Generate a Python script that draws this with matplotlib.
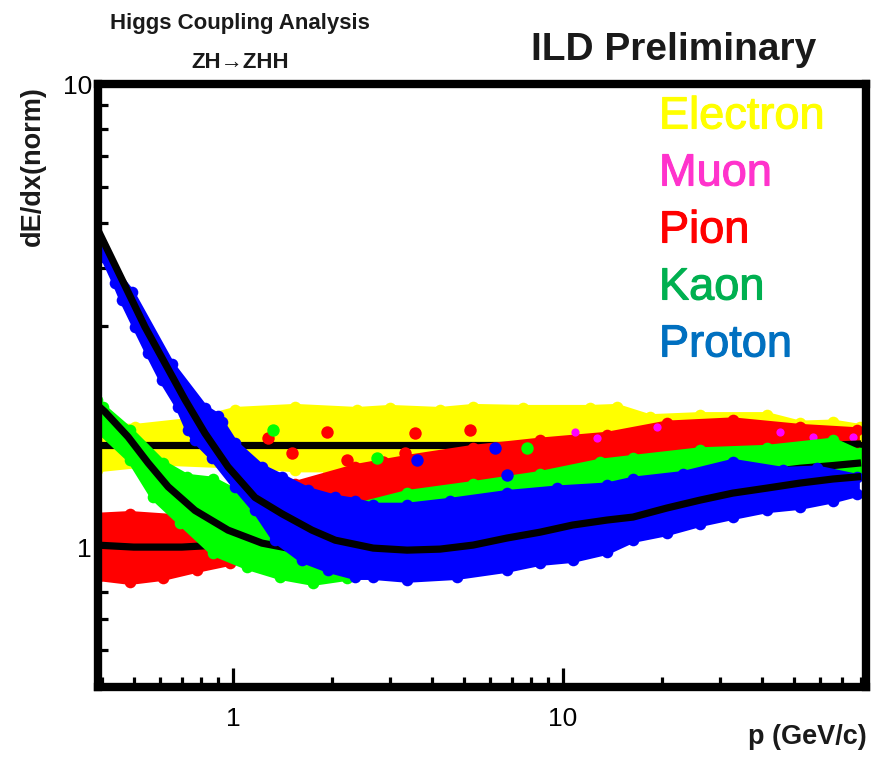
import matplotlib
matplotlib.use('Agg')
import matplotlib.pyplot as plt
import matplotlib.patheffects as pe
from matplotlib.ticker import LogLocator, FuncFormatter, NullFormatter

plt.rcParams['font.family'] = ['Liberation Sans', 'DejaVu Sans']

# ---- values (p in GeV/c, dE/dx normalised) ----
# electron band
e_up_p = [0.387, 0.505, 0.767, 1.014, 1.541, 2.38, 2.99, 4.24, 5.34, 7.56, 12.1, 14.6, 18.3, 26.0, 41.5, 52.3, 65.8, 79.4]
e_up_v = [1.83, 1.82, 1.88, 1.98, 2.01, 1.98, 2.00, 1.98, 2.01, 2.00, 2.00, 2.01, 1.91, 1.93, 1.93, 1.85, 1.86, 1.82]
e_lo_p = [0.387, 0.609, 1.224, 1.541, 1.941, 2.66, 79.4]
e_lo_v = [1.47, 1.52, 1.49, 1.47, 1.47, 1.47, 1.47]
e_fit_p = [0.387, 82.0]
e_fit_v = [1.66, 1.66]

# muon (only a few points peek out)
mu_dot_p = [10.9, 12.7, 19.3, 45.5, 57.2, 75.6]
mu_dot_v = [1.77, 1.72, 1.82, 1.77, 1.73, 1.73]

# pion band
pi_up_p = [0.387, 0.488, 0.691, 0.823, 0.95, 1.036, 1.541, 2.34, 3.37, 5.34, 8.52, 13.6, 20.6, 32.7, 52.3, 77.8]
pi_up_v = [1.17, 1.18, 1.16, 1.155, 1.26, 1.28, 1.37, 1.49, 1.56, 1.64, 1.70, 1.75, 1.85, 1.88, 1.82, 1.79]
pi_lo_p = [0.387, 0.488, 0.614, 0.778, 0.979, 1.268, 1.618, 2.11, 3.37, 5.34, 8.52, 13.6, 20.6, 32.7, 52.3, 77.8]
pi_lo_v = [0.857, 0.84, 0.857, 0.892, 0.923, 0.96, 1.09, 1.24, 1.28, 1.35, 1.44, 1.53, 1.56, 1.64, 1.60, 1.56]
pi_fit_p = [0.387, 0.5, 0.7, 0.9, 1.2, 2.0, 3.37, 5.34, 8.52, 13.6, 20.6, 32.7, 41.5, 52.3, 65.8, 80.0]
pi_fit_v = [1.01, 1.0, 1.0, 1.01, 1.04, 1.10, 1.18, 1.25, 1.33, 1.41, 1.48, 1.55, 1.59, 1.63, 1.66, 1.67]
pi_dot_p = [1.277, 1.927, 1.509, 2.22, 3.56, 3.32, 5.23, 2.85]
pi_dot_v = [1.72, 1.77, 1.60, 1.54, 1.76, 1.60, 1.79, 1.53]

# kaon band
k_up_p = [0.387, 0.404, 0.488, 0.614, 0.726, 0.870, 1.103, 1.268, 1.618, 2.38, 3.37, 5.34, 8.52, 12.9, 16.3, 26.0, 41.5, 65.8, 79.4]
k_up_v = [2.08, 2.01, 1.79, 1.52, 1.42, 1.40, 1.28, 1.20, 1.17, 1.23, 1.31, 1.37, 1.44, 1.53, 1.56, 1.62, 1.64, 1.70, 1.60]
k_lo_p = [0.387, 0.488, 0.573, 0.691, 0.870, 1.103, 1.388, 1.747, 2.22, 2.66, 3.37, 5.34, 8.52, 12.9, 26.0, 41.5, 79.4]
k_lo_v = [1.80, 1.54, 1.28, 1.13, 0.97, 0.905, 0.861, 0.836, 0.857, 0.870, 0.937, 1.035, 1.12, 1.20, 1.28, 1.36, 1.45]
k_fit_p = [0.387, 0.409, 0.481, 0.553, 0.636, 0.767, 0.966, 1.224, 1.468, 1.8, 2.5, 3.37, 5.34, 8.52, 13.6, 20.6, 32.7, 41.5, 52.3, 65.8, 80.0]
k_fit_v = [2.03, 1.96, 1.73, 1.52, 1.35, 1.20, 1.088, 1.02, 0.995, 0.98, 0.975, 0.985, 1.03, 1.10, 1.20, 1.30, 1.40, 1.45, 1.48, 1.50, 1.52]
k_dot_p = [1.322, 2.73, 7.78]
k_dot_v = [1.79, 1.56, 1.64]

# proton band
p_up_p = [0.395, 0.494, 0.653, 0.823, 0.901, 0.926, 1.014, 1.224, 1.408, 1.687, 2.04, 2.34, 2.66, 3.37, 4.54, 6.76, 9.59, 13.6, 16.3, 23.1, 32.7, 46.4, 58.9, 77.8]
p_up_v = [4.34, 3.55, 2.48, 2.00, 1.92, 1.86, 1.68, 1.49, 1.42, 1.33, 1.28, 1.26, 1.23, 1.23, 1.26, 1.31, 1.34, 1.36, 1.40, 1.44, 1.53, 1.47, 1.48, 1.42]
p_lo_p = [0.395, 0.404, 0.439, 0.461, 0.505, 0.553, 0.609, 0.681, 0.731, 0.767, 0.864, 1.014, 1.166, 1.340, 1.618, 1.941, 2.34, 2.66, 3.37, 4.77, 6.76, 8.52, 10.7, 13.6, 16.3, 20.6, 26.0, 32.7, 41.5, 52.3, 65.8, 77.8]
p_lo_v = [4.34, 4.23, 3.72, 3.42, 2.99, 2.62, 2.29, 2.01, 1.79, 1.70, 1.56, 1.35, 1.20, 1.035, 0.937, 0.892, 0.861, 0.861, 0.849, 0.861, 0.892, 0.923, 0.937, 0.975, 1.035, 1.07, 1.12, 1.16, 1.20, 1.22, 1.26, 1.30]
p_fit_p = [0.387, 0.541, 0.716, 0.823, 0.966, 1.166, 1.408, 1.735, 2.04, 2.66, 3.37, 4.24, 5.34, 6.76, 8.52, 10.7, 13.6, 16.3, 20.6, 26.0, 32.7, 41.5, 52.3, 65.8, 80.0]
p_fit_v = [4.89, 2.99, 2.08, 1.76, 1.49, 1.28, 1.18, 1.088, 1.035, 0.995, 0.985, 0.99, 1.01, 1.046, 1.077, 1.116, 1.144, 1.161, 1.214, 1.263, 1.308, 1.341, 1.375, 1.403, 1.42]
p_dot_p = [3.61, 6.22, 6.76]
p_dot_v = [1.54, 1.64, 1.43]

legend_names = ['Electron', 'Muon', 'Pion', 'Kaon', 'Proton']
legend_colors = ['#ffff00', '#ff33cc', '#ff0000', '#00b050', '#0070c0']

W, H = 875, 757


def band(ax, up_p, up_v, lo_p, lo_v, color, z):
    xs = list(up_p) + list(lo_p)[::-1]
    ys = list(up_v) + list(lo_v)[::-1]
    ax.fill(xs, ys, color=color, ec=color, lw=4, joinstyle='round', zorder=z)
    ax.scatter(xs, ys, s=70, color=color, lw=0, zorder=z)


def fit(ax, px, pv, z):
    ax.plot(px, pv, color='black', lw=5.2, solid_capstyle='butt', zorder=z)


fig = plt.figure(figsize=(W / 100, H / 100), dpi=100)
ax = fig.add_axes([97.5 / W, 1 - 686.5 / H, (866 - 97.5) / W, (686.5 - 84) / H])
ax.set_xscale('log')
ax.set_yscale('log')
ax.set_xlim(0.3886, 82.8)
ax.set_ylim(0.5, 10)

band(ax, e_up_p, e_up_v, e_lo_p, e_lo_v, '#ffff00', 1)
fit(ax, e_fit_p, e_fit_v, 2)
band(ax, pi_up_p, pi_up_v, pi_lo_p, pi_lo_v, '#ff0000', 3)
ax.scatter(pi_dot_p, pi_dot_v, s=80, color='#ff0000', lw=0, zorder=3)
ax.scatter(mu_dot_p, mu_dot_v, s=35, color='#ff00ff', lw=0, zorder=3.5)
fit(ax, pi_fit_p, pi_fit_v, 4)
band(ax, k_up_p, k_up_v, k_lo_p, k_lo_v, '#00ff00', 5)
ax.scatter(k_dot_p, k_dot_v, s=80, color='#00ff00', lw=0, zorder=5)
fit(ax, k_fit_p, k_fit_v, 6)
band(ax, p_up_p, p_up_v, p_lo_p, p_lo_v, '#0000ff', 7)
ax.scatter(p_dot_p, p_dot_v, s=80, color='#0000ff', lw=0, zorder=7)
fit(ax, p_fit_p, p_fit_v, 8)

for side in ['left', 'right', 'top', 'bottom']:
    ax.spines[side].set_linewidth(6)
    ax.spines[side].set_zorder(10)

ax.xaxis.set_major_locator(LogLocator(base=10))
ax.xaxis.set_minor_locator(LogLocator(base=10, subs=range(2, 10)))
ax.yaxis.set_major_locator(LogLocator(base=10))
ax.yaxis.set_minor_locator(LogLocator(base=10, subs=range(2, 10)))
fmt = FuncFormatter(lambda v, _: f'{v:g}')
ax.xaxis.set_major_formatter(fmt)
ax.yaxis.set_major_formatter(fmt)
ax.xaxis.set_minor_formatter(NullFormatter())
ax.yaxis.set_minor_formatter(NullFormatter())
ax.tick_params(which='both', direction='in', top=False, right=False, width=2.3, colors='black')
ax.tick_params(which='major', length=14, labelsize=19)
ax.tick_params(which='minor', length=7.5)
ax.tick_params(axis='x', which='major', pad=15)
ax.tick_params(axis='y', which='major', pad=4)

txt = '#1a1a1a'
fig.text(240 / W, 1 - 23 / H, 'Higgs Coupling Analysis', ha='center', va='center',
         fontsize=16, fontweight='bold', color=txt)
fig.text(240 / W, 1 - 62 / H, 'ZH→ZHH', ha='center', va='center',
         fontsize=16, fontweight='bold', color=txt)
fig.text(674 / W, 1 - 50 / H, 'ILD Preliminary', ha='center', va='center',
         fontsize=28, fontweight='bold', color=txt)
fig.text(33 / W, 1 - 166 / H, 'dE/dx(norm)', rotation=90, ha='center', va='center',
         fontsize=19.5, fontweight='bold', color=txt)
fig.text(867 / W, 1 - 737 / H, 'p (GeV/c)', ha='right', va='center',
         fontsize=19.5, fontweight='bold', color=txt)

for i, (name, col) in enumerate(zip(legend_names, legend_colors)):
    fig.text(659 / W, 1 - (117 + 57 * i) / H, name, ha='left', va='center',
             fontsize=32.5, color=col,
             path_effects=[pe.withStroke(linewidth=0.8, foreground=col)])

fig.savefig('out.png', dpi=100)
